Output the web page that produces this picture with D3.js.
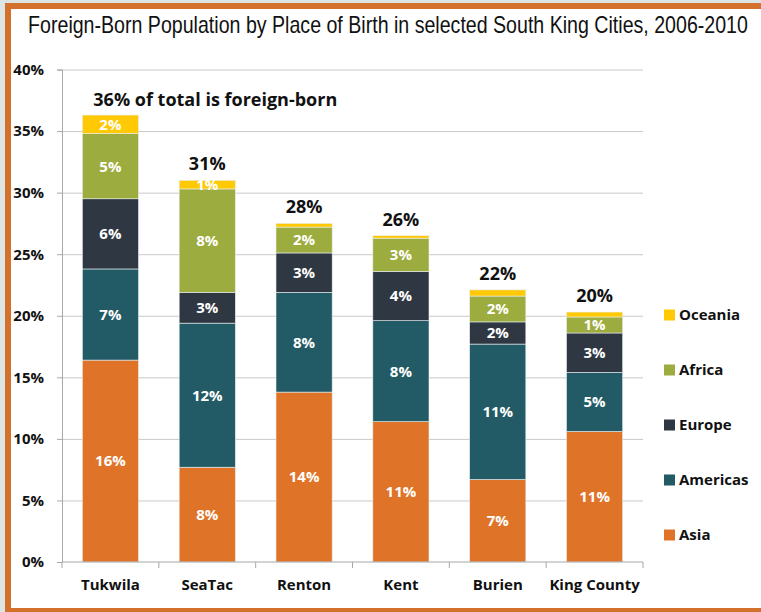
<!DOCTYPE html>
<html><head><meta charset="utf-8">
<script src="https://cdn.jsdelivr.net/npm/d3@7/dist/d3.min.js"></script>
<style>
html,body{margin:0;padding:0;background:#dce4e4;}
svg{display:block;}
</style></head>
<body>
<svg id="chart" width="761" height="612"></svg>
<script>
const cities = ["Tukwila", "SeaTac", "Renton", "Kent", "Burien", "King County"];
const seriesNames = ["Asia", "Americas", "Europe", "Africa", "Oceania"];
const asia     = [16.4, 7.7, 13.8, 11.4, 6.7, 10.6];
const americas = [7.4, 11.7, 8.1, 8.2, 11.0, 4.8];
const europe   = [5.7, 2.5, 3.2, 4.0, 1.8, 3.2];
const africa   = [5.3, 8.4, 2.1, 2.7, 2.1, 1.3];
const oceania  = [1.5, 0.7, 0.3, 0.2, 0.5, 0.4];
const totalLabels = ["36% of total is foreign-born", "31%", "28%", "26%", "22%", "20%"];
const yTicks = [0, 5, 10, 15, 20, 25, 30, 35, 40];
const colors = ["#df7428", "#225b65", "#2e3742", "#9dac3e", "#ffc905"];
const titleText = "Foreign-Born Population by Place of Birth in selected South King Cities, 2006-2010";

const seriesValues = [asia, americas, europe, africa, oceania];
const rows = cities.map((c, i) => {
  const r = {city: c};
  seriesNames.forEach((s, k) => r[s] = seriesValues[k][i]);
  return r;
});
const stacked = d3.stack().keys(seriesNames)(rows);

const svg = d3.select("#chart");
// frame
svg.append("rect").attr("x", 5).attr("y", 3).attr("width", 756).attr("height", 609).attr("fill", "#d2702c");
svg.append("rect").attr("x", 11).attr("y", 9).attr("width", 750).attr("height", 599).attr("fill", "#ffffff");

const title = svg.append("text").attr("text-anchor", "middle")
  .attr("font-family", "'Liberation Sans Narrow','Arial Narrow','Liberation Sans',sans-serif")
  .attr("font-size", 23).attr("fill", "#111")
  .text(titleText);
const tLen = title.node().getComputedTextLength();
title.attr("transform", `translate(388,33) scale(${Math.min(1, 720 / tLen)},1)`);

const x = d3.scaleBand().domain(cities).range([62, 643]).paddingInner(0.42).paddingOuter(0.21);
const y = d3.scaleLinear().domain([0, 40]).range([562, 69.5]);

const font = "'Open Sans', Lato, sans-serif";

// gridlines
svg.append("g").attr("transform", "translate(62,0)")
  .call(d3.axisLeft(y).tickValues(yTicks.slice(1)).tickSize(-581).tickFormat(""))
  .call(g => g.select(".domain").remove())
  .call(g => g.selectAll("line").attr("stroke", "#c9c9c9").attr("stroke-width", 1));

// y axis
svg.append("g").attr("transform", "translate(62,0)")
  .call(d3.axisLeft(y).tickValues(yTicks).tickSize(5).tickPadding(13).tickFormat(d => d + "%"))
  .call(g => g.select(".domain").attr("stroke", "#a8a8a8"))
  .call(g => g.selectAll("line").attr("stroke", "#a8a8a8"))
  .call(g => g.selectAll("text").attr("font-family", font).attr("font-weight", "bold")
    .attr("font-size", 15).attr("fill", "#111"));

// bars
const layers = svg.append("g").selectAll("g").data(stacked).join("g")
  .attr("fill", (d, i) => colors[i]);
layers.selectAll("rect").data(d => d).join("rect")
  .attr("x", d => x(d.data.city))
  .attr("width", x.bandwidth())
  .attr("y", d => y(d[1]))
  .attr("height", d => y(d[0]) - y(d[1]))
  .attr("stroke", "#e8eef0").attr("stroke-width", 0.6);

// segment labels
layers.selectAll("text").data(d => d.filter(v => v[1] - v[0] >= 0.6)).join("text")
  .attr("x", d => x(d.data.city) + x.bandwidth() / 2)
  .attr("y", d => y((d[0] + d[1]) / 2))
  .attr("dy", "0.36em")
  .attr("text-anchor", "middle")
  .attr("font-family", font).attr("font-weight", "bold").attr("font-size", 15)
  .attr("fill", "#ffffff")
  .text(d => Math.round(d[1] - d[0]) + "%");

// x axis
svg.append("line").attr("x1", 62).attr("x2", 643).attr("y1", y(0)).attr("y2", y(0)).attr("stroke", "#a8a8a8");
const bounds = cities.map(c => x(c) - x.step() * x.paddingInner() / 2).concat([643]);
bounds[0] = 62;
svg.append("g").selectAll("line").data(bounds).join("line")
  .attr("x1", d => d).attr("x2", d => d).attr("y1", y(0)).attr("y2", y(0) + 6).attr("stroke", "#a8a8a8");
svg.append("g").attr("transform", `translate(0,${y(0)})`)
  .call(d3.axisBottom(x).tickSize(0).tickPadding(17))
  .call(g => g.select(".domain").remove())
  .call(g => g.selectAll("text").attr("font-family", font).attr("font-weight", "bold")
    .attr("font-size", 15).attr("fill", "#111"));

// totals
const topLayer = stacked[stacked.length - 1];
svg.append("g").selectAll("text").data(topLayer).join("text")
  .attr("x", (d, i) => i === 0 ? x(d.data.city) + 11 : x(d.data.city) + x.bandwidth() / 2)
  .attr("y", (d, i) => y(d[1]) - (i === 0 ? 9 : 10))
  .attr("text-anchor", (d, i) => i === 0 ? "start" : "middle")
  .attr("font-family", font).attr("font-weight", "bold").attr("font-size", 18).attr("fill", "#111")
  .text((d, i) => totalLabels[i]);

// legend
const legend = svg.append("g").selectAll("g").data(seriesNames.slice().reverse()).join("g")
  .attr("transform", (d, i) => `translate(664,${315 + i * 55})`);
legend.append("rect").attr("x", 0).attr("y", -5.5).attr("width", 11).attr("height", 11)
  .attr("fill", d => colors[seriesNames.indexOf(d)]);
legend.append("text").attr("x", 15).attr("y", 0).attr("dy", "0.36em")
  .attr("font-family", font).attr("font-weight", "bold").attr("font-size", 15).attr("fill", "#111")
  .text(d => d);
</script>
</body></html>
